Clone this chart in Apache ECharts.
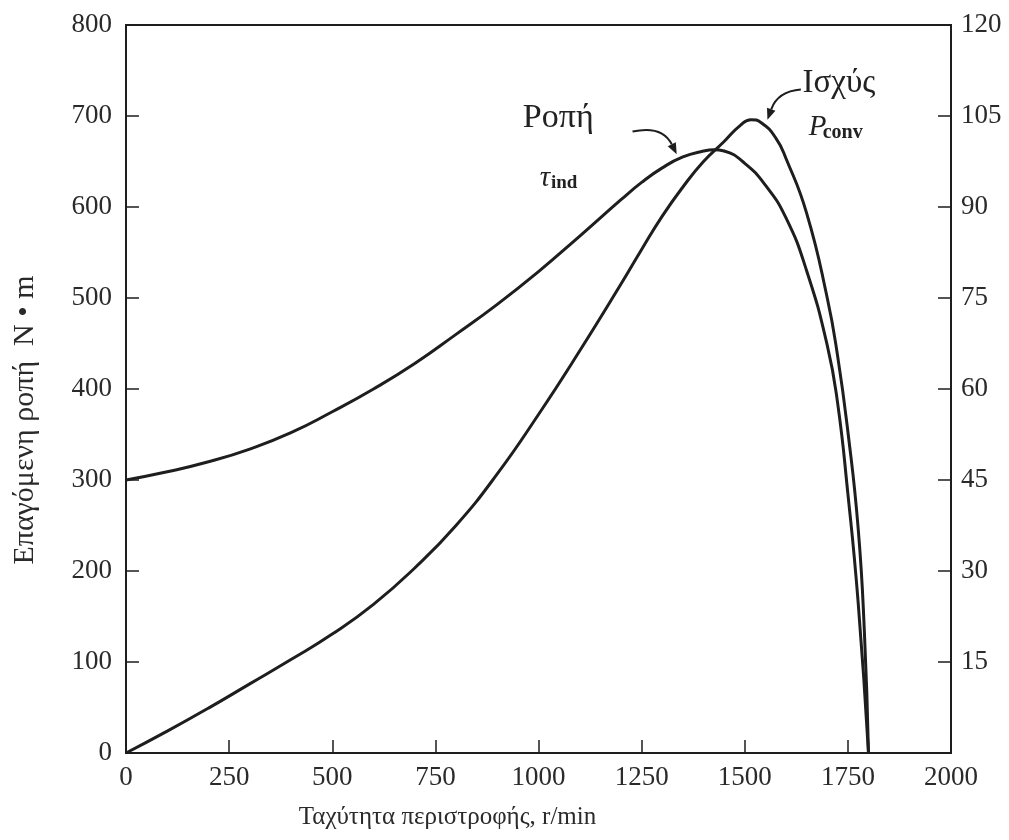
<!DOCTYPE html>
<html><head><meta charset="utf-8">
<script src="https://cdn.jsdelivr.net/npm/echarts@6/dist/echarts.min.js"></script>
<style>html,body{margin:0;padding:0;background:#fff}#c{width:1009px;height:840px}</style>
</head><body><div id="c"></div>
<script>
// Induced torque (N·m) vs speed (r/min)
const speedTorque = [0,100,200,300,400,500,600,700,800,900,1000,1100,1200,1250,1300,1350,1400,1425,1450,1500,1550,1600,1650,1700,1725,1750,1775,1800];
const torque      = [300,309,320,334,352,375,400,428,460,493,529,568,608,627,643,655,661.5,663,661.5,648,624,588,530,448,385,285,165,0];
// Converted power (kW) vs speed (r/min)
const speedPower = [0,100,200,300,400,500,600,700,800,900,1000,1100,1200,1250,1300,1350,1400,1450,1490,1515,1540,1575,1600,1650,1700,1725,1750,1775,1790,1800];
const power      = [0,3.6,7.4,11.4,15.4,19.6,24.5,30.5,37.5,46,55.8,66.3,77.3,83,88.5,93.3,97.5,100.8,103.5,104.4,103.9,101.4,98,89,75,65.5,53,37,20,0];

const xTitle = 'Ταχύτητα περιστροφής, r/min';
const yTitle = 'Επαγόμενη ροπή  N • m';

const FONT = '"Liberation Serif", "DejaVu Serif", serif';
const INK = '#1e1e1e';

const chart = echarts.init(document.getElementById('c'), null, {renderer: 'canvas'});

const axisCommon = {
  axisLine: {show: true, lineStyle: {color: INK, width: 2}},
  axisTick: {show: true, inside: true, length: 13, lineStyle: {color: INK, width: 1.5}},
  splitLine: {show: false},
  axisLabel: {color: '#2a2a2a', fontFamily: FONT, fontSize: 27, formatter: v => String(v)}
};

chart.setOption({
  animation: false,
  backgroundColor: '#ffffff',
  grid: {left: 126, right: 58, top: 25, bottom: 87, show: true, borderColor: INK, borderWidth: 2, backgroundColor: 'transparent'},
  xAxis: Object.assign({}, axisCommon, {
    type: 'value', min: 0, max: 2000, interval: 250,
    name: xTitle, nameLocation: 'middle', nameGap: 52,
    nameTextStyle: {color: '#2a2a2a', fontFamily: FONT, fontSize: 25, padding: [0, 182, 0, 0]},
    axisLabel: Object.assign({}, axisCommon.axisLabel, {margin: 11})
  }),
  yAxis: [
    Object.assign({}, axisCommon, {
      type: 'value', min: 0, max: 800, interval: 100, position: 'left',
      name: yTitle, nameLocation: 'middle', nameGap: 86, nameRotate: 90,
      nameTextStyle: {color: '#2a2a2a', fontFamily: FONT, fontSize: 30, padding: [0, 62, 0, 0]},
      axisLabel: Object.assign({}, axisCommon.axisLabel, {margin: 14})
    }),
    Object.assign({}, axisCommon, {
      type: 'value', min: 0, max: 120, interval: 15, position: 'right',
      axisLabel: Object.assign({}, axisCommon.axisLabel, {margin: 10, formatter: v => v === 0 ? '' : String(v)})
    })
  ],
  series: [
    {
      name: 'τind', type: 'line', yAxisIndex: 0, showSymbol: false, smooth: true,
      lineStyle: {color: INK, width: 3}, data: speedTorque.map((s, i) => [s, torque[i]])
    },
    {
      name: 'Pconv', type: 'line', yAxisIndex: 1, showSymbol: false, smooth: true,
      lineStyle: {color: INK, width: 3}, data: speedPower.map((s, i) => [s, power[i]])
    }
  ]
});

// Annotations anchored in data coordinates (rpm, N·m on left axis)
function px(rpm, t) { return chart.convertToPixel({xAxisIndex: 0, yAxisIndex: 0}, [rpm, t]); }

function arrow(start, ctrl, end) {
  const a = px(start[0], start[1]), c = px(ctrl[0], ctrl[1]), e = px(end[0], end[1]);
  const ang = Math.atan2(e[1] - c[1], e[0] - c[0]);
  const L = 11, W = 4.5;
  const bx = e[0] - L * Math.cos(ang), by = e[1] - L * Math.sin(ang);
  const p1 = [bx + W * Math.sin(ang), by - W * Math.cos(ang)];
  const p2 = [bx - W * Math.sin(ang), by + W * Math.cos(ang)];
  return [
    {type: 'bezierCurve', shape: {x1: a[0], y1: a[1], cpx1: c[0], cpy1: c[1], x2: bx, y2: by},
     style: {stroke: INK, lineWidth: 2, fill: null}, z: 10},
    {type: 'polygon', shape: {points: [e, p1, p2]}, style: {fill: INK}, z: 10}
  ];
}

function txt(rpm, t, text, font) {
  const p = px(rpm, t);
  return {type: 'text', x: p[0], y: p[1], z: 10,
    style: {text: text, fill: '#222', font: font, align: 'left', verticalAlign: 'middle'}};
}

const g = [];
g.push(txt(962, 698, 'Ροπή', '34px ' + FONT));
g.push(txt(1003, 632, 'τ', 'italic 29px ' + FONT));
g.push(txt(1030, 626, 'ind', 'bold 19px ' + FONT));
g.push(txt(1640, 736, 'Ισχύς', '33px ' + FONT));
g.push(txt(1655, 688, 'P', 'italic 29px ' + FONT));
g.push(txt(1689, 682, 'conv', 'bold 20px ' + FONT));
arrow([1228, 683], [1300, 690], [1335, 658]).forEach(e => g.push(e));
arrow([1636, 729], [1580, 727], [1555, 696]).forEach(e => g.push(e));
chart.setOption({graphic: g});
</script>
</body></html>
